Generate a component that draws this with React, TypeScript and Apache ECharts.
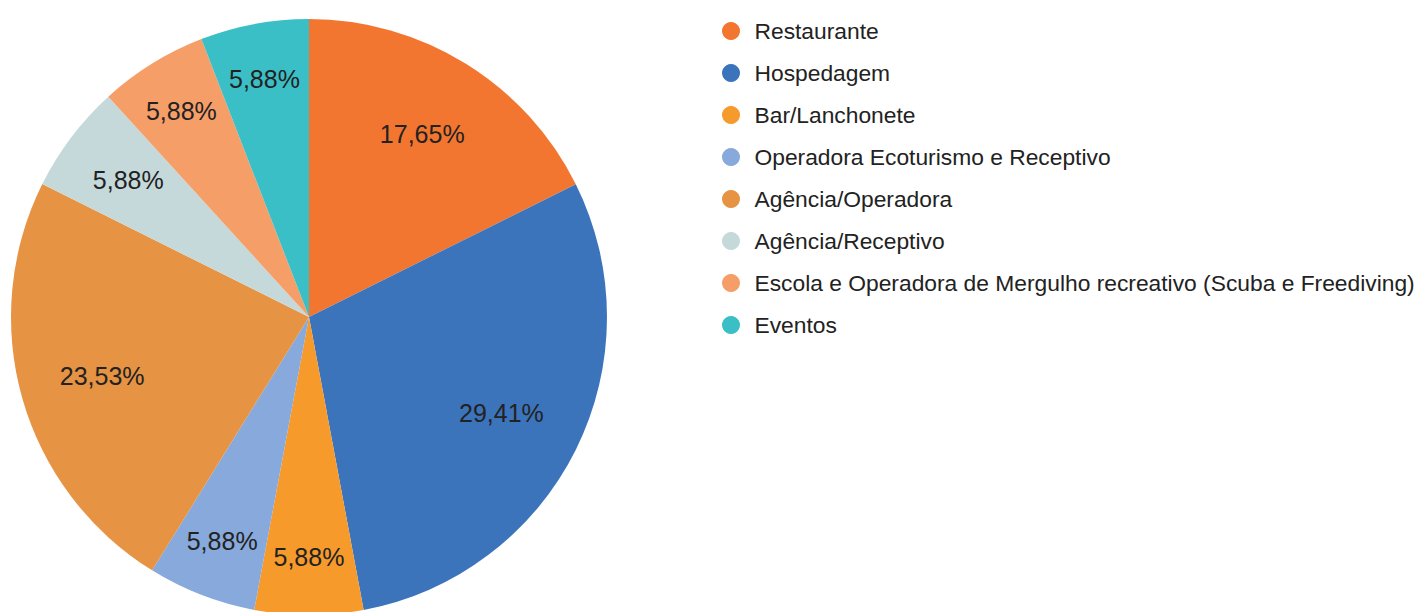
import React, { useEffect, useRef } from "react";
import * as echarts from "echarts";

const categories = [
  "Restaurante",
  "Hospedagem",
  "Bar/Lanchonete",
  "Operadora Ecoturismo e Receptivo",
  "Agência/Operadora",
  "Agência/Receptivo",
  "Escola e Operadora de Mergulho recreativo (Scuba e Freediving)",
  "Eventos",
];
const values = [17.65, 29.41, 5.88, 5.88, 23.53, 5.88, 5.88, 5.88];
const colors = [
  "#f37630",
  "#3c74bc",
  "#f69a2c",
  "#87a9db",
  "#e69343",
  "#c5d9db",
  "#f69e68",
  "#3bbfc6",
];

const CX = 309;
const CY = 317;
const R = 298;
const BASE_R = 215;
const MARGIN = 7;

export default function App() {
  const ref = useRef<HTMLDivElement>(null);
  useEffect(() => {
    if (!ref.current) return;
    const chart = echarts.init(ref.current, undefined, { renderer: "svg" });
    const total = values.reduce((a, b) => a + b, 0);
    const starts: number[] = [];
    let acc = 0;
    values.forEach((v) => {
      starts.push((acc / total) * Math.PI * 2);
      acc += v;
    });
    const labelLayout = (p: any) => {
      const i = p.dataIndex;
      const a0 = starts[i];
      const a1 = a0 + (values[i] / total) * Math.PI * 2;
      const am = (a0 + a1) / 2;
      const hw = p.labelRect.width / 2;
      const hh = p.labelRect.height / 2;
      let r = BASE_R;
      const span = a1 - a0;
      if (span < Math.PI) {
        const s = Math.sin(span / 2);
        const need0 = hw * Math.abs(Math.cos(a0)) + hh * Math.abs(Math.sin(a0));
        const need1 = hw * Math.abs(Math.cos(a1)) + hh * Math.abs(Math.sin(a1));
        r = Math.max(r, (MARGIN + Math.max(need0, need1)) / s);
      }
      return {
        x: CX + r * Math.sin(am),
        y: CY - r * Math.cos(am),
        align: "center",
        verticalAlign: "middle",
      };
    };
    chart.setOption({
      animation: false,
      color: colors,
      legend: {
        orient: "vertical",
        left: 722,
        top: 19.5,
        padding: 0,
        itemWidth: 37,
        itemHeight: 18,
        itemGap: 19,
        icon: "circle",
        textStyle: {
          fontFamily: "Liberation Sans, Arial, sans-serif",
          fontSize: 22.8,
          lineHeight: 23,
          color: "#222222",
        },
        data: categories,
      },
      series: [
        {
          type: "pie",
          center: [CX, CY],
          radius: R,
          startAngle: 90,
          clockwise: true,
          avoidLabelOverlap: false,
          data: categories.map((name, i) => ({ name, value: values[i] })),
          itemStyle: { borderWidth: 0 },
          label: {
            show: true,
            position: "inside",
            fontFamily: "Liberation Sans, Arial, sans-serif",
            fontSize: 25,
            color: "#222222",
            formatter: (p: any) => p.value.toFixed(2).replace(".", ",") + "%",
          },
          labelLine: { show: false },
          labelLayout,
          emphasis: { disabled: true },
        },
      ],
    });
    return () => chart.dispose();
  }, []);
  return (
    <div
      ref={ref}
      style={{ position: "fixed", left: 0, top: 0, width: 1419, height: 612, background: "#fff" }}
    />
  );
}
